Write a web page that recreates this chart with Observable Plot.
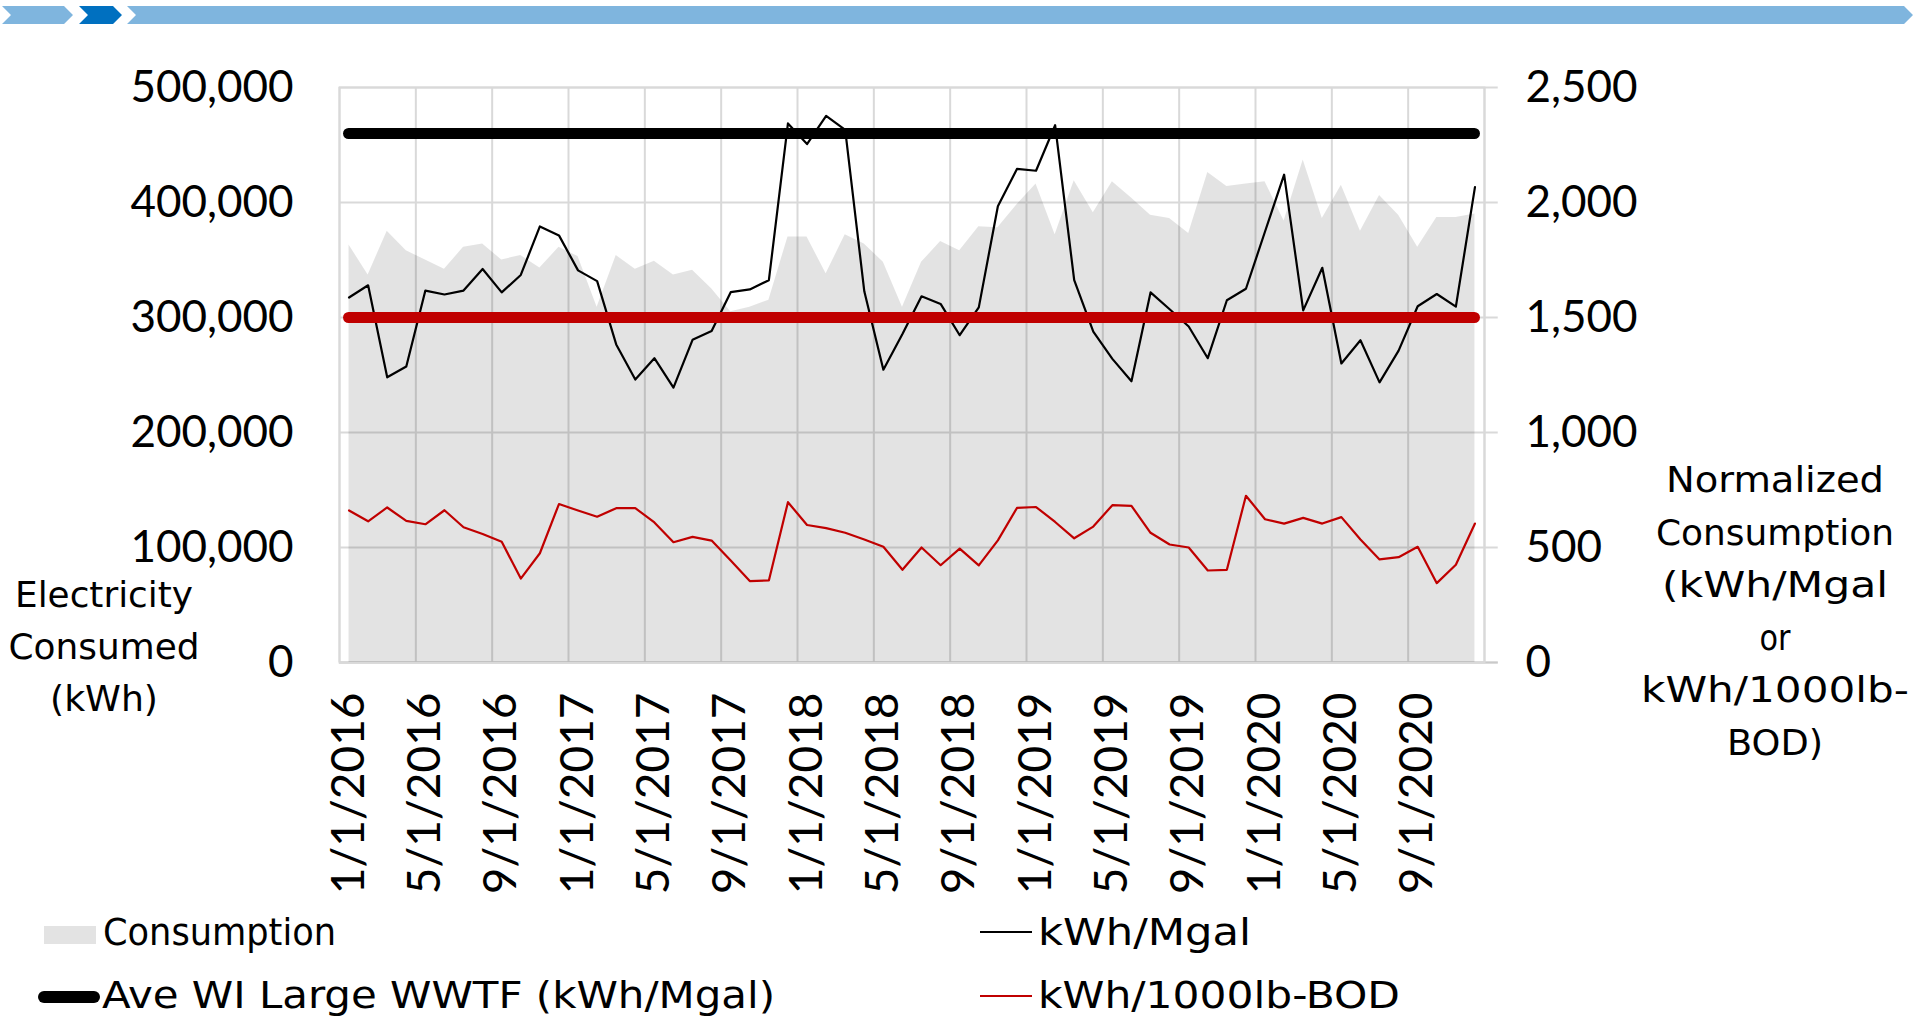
<!DOCTYPE html>
<html>
<head>
<meta charset="utf-8">
<script src="https://cdn.jsdelivr.net/npm/d3@7"></script>
<script src="https://cdn.jsdelivr.net/npm/@observablehq/plot@0.6"></script>
<style>
html, body { margin: 0; padding: 0; background: #fff; }
#wrap { position: relative; width: 1920px; height: 1019px; overflow: hidden; }
#wrap svg { position: absolute; left: 0; top: 0; }
</style>
</head>
<body>
<div id="wrap"></div>
<script>
// ---------- data ----------
const months = [
  "2016-01","2016-02","2016-03","2016-04","2016-05","2016-06","2016-07","2016-08","2016-09","2016-10","2016-11","2016-12",
  "2017-01","2017-02","2017-03","2017-04","2017-05","2017-06","2017-07","2017-08","2017-09","2017-10","2017-11","2017-12",
  "2018-01","2018-02","2018-03","2018-04","2018-05","2018-06","2018-07","2018-08","2018-09","2018-10","2018-11","2018-12",
  "2019-01","2019-02","2019-03","2019-04","2019-05","2019-06","2019-07","2019-08","2019-09","2019-10","2019-11","2019-12",
  "2020-01","2020-02","2020-03","2020-04","2020-05","2020-06","2020-07","2020-08","2020-09","2020-10","2020-11","2020-12"
];
// Electricity consumed (kWh) - left axis
const consumption = [
  363000, 337000, 375000, 358000, 350000, 342000, 361000, 364000, 350000, 354000, 343000, 361000,
  353000, 309000, 354000, 342000, 349000, 337000, 341000, 325000, 305000, 309000, 315000, 370000,
  370000, 338000, 372000, 364000, 348000, 309000, 348000, 366000, 358000, 379000, 378000, 398000,
  416000, 372000, 419000, 391000, 418000, 404000, 389000, 386000, 373000, 426000, 414000, 416000,
  418000, 384000, 437000, 386000, 415000, 375000, 406000, 389000, 361000, 387000, 387000, 390000
];
// kWh/Mgal - right axis
const kwhPerMgal = [
  1587, 1640, 1240, 1287, 1617, 1600, 1617, 1711, 1609, 1685, 1896, 1857,
  1705, 1658, 1383, 1230, 1323, 1195, 1403, 1441, 1610, 1622, 1662, 2344,
  2254, 2377, 2316, 1614, 1273, 1428, 1592, 1559, 1423, 1544, 1984, 2146,
  2138, 2336, 1662, 1439, 1320, 1223, 1609, 1536, 1461, 1323, 1575, 1625,
  1874, 2121, 1531, 1716, 1300, 1401, 1218, 1356, 1549, 1602, 1547, 2067
];
// kWh/1000lb-BOD - right axis
const kwhPer1000lbBOD = [
  661, 614, 674, 616, 601, 662, 588, 559, 525, 365, 475, 689,
  661, 634, 671, 671, 609, 523, 546, 530, 443, 354, 357, 697,
  598, 584, 564, 535, 503, 403, 500, 423, 495, 422, 531, 672,
  676, 611, 540, 591, 684, 681, 564, 513, 500, 400, 403, 725,
  623, 604, 629, 604, 632, 535, 448, 458, 503, 345, 425, 604
];
// Reference averages - right axis
const aveWILargeWWTF = 2300;   // kWh/Mgal
const aveBODReference = 1500;

const leftTicks = [0, 100000, 200000, 300000, 400000, 500000];
const rightTicks = [0, 500, 1000, 1500, 2000, 2500];
const xTickLabels = ["1/1/2016","5/1/2016","9/1/2016","1/1/2017","5/1/2017","9/1/2017","1/1/2018","5/1/2018","9/1/2018","1/1/2019","5/1/2019","9/1/2019","1/1/2020","5/1/2020","9/1/2020"];
const legendItems = ["Consumption", "Ave WI Large WWTF (kWh/Mgal)", "kWh/Mgal", "kWh/1000lb-BOD"];

(function () {
// ---------- build ----------
const RATIO = leftTicks[leftTicks.length - 1] / rightTicks[rightTicks.length - 1]; // right -> left scale
const data = months.map((m, i) => ({
  x: i + 0.5, month: m,
  consumption: consumption[i],
  mgal: kwhPerMgal[i] * RATIO,
  bod: kwhPer1000lbBOD[i] * RATIO
}));
const n = months.length;
const labelPos = xTickLabels.map(l => {
  const [mo, , yr] = l.split("/").map(Number);
  return months.indexOf(`${yr}-${String(mo).padStart(2, "0")}`) + 0.5;
});
const labelByPos = new Map(labelPos.map((p, k) => [p, xTickLabels[k]]));
const gridXPos = labelPos.map(p => p - 0.5).concat([n]);
const fmt = d3.format(",");
const GRID = "#d9d9d9";
const TICKFONT = "Lato, 'DejaVu Sans', sans-serif";

const chart = Plot.plot({
  width: 1920, height: 1019,
  marginLeft: 339, marginRight: 436, marginTop: 87, marginBottom: 357,
  style: { fontFamily: TICKFONT, fontSize: "44px", color: "#000", background: "transparent", overflow: "visible" },
  x: { type: "linear", domain: [0, n] },
  y: { domain: [0, leftTicks[leftTicks.length - 1]] },
  marks: [
    Plot.gridX(gridXPos, { stroke: GRID, strokeOpacity: 1, strokeWidth: 2 }),
    Plot.gridY(leftTicks, { stroke: GRID, strokeOpacity: 1, strokeWidth: 2 }),
    Plot.ruleY(leftTicks, { x1: n, x2: n + 0.72, stroke: GRID, strokeWidth: 2 }),
    Plot.ruleY([0], { x1: 0, x2: n + 0.72, stroke: "#c9c9c9", strokeWidth: 2 }),
    Plot.frame({ stroke: GRID, strokeWidth: 2 }),
    Plot.areaY(data, { x: "x", y: "consumption", fill: "#000", fillOpacity: 0.11 }),
    Plot.lineY(data, { x: "x", y: "mgal", stroke: "#000", strokeWidth: 2.2 }),
    Plot.lineY(data, { x: "x", y: "bod", stroke: "#c00000", strokeWidth: 2.2 }),
    Plot.ruleY([aveWILargeWWTF * RATIO], { x1: data[0].x, x2: data[n - 1].x, stroke: "#000", strokeWidth: 11, strokeLinecap: "round" }),
    Plot.ruleY([aveBODReference * RATIO], { x1: data[0].x, x2: data[n - 1].x, stroke: "#c00000", strokeWidth: 11, strokeLinecap: "round" }),
    Plot.axisY(leftTicks, { anchor: "left", tickSize: 0, tickPadding: 46, tickFormat: fmt, label: null, fontSize: 44 }),
    Plot.axisY(rightTicks.map(v => v * RATIO), { anchor: "right", tickSize: 0, tickPadding: 41, tickFormat: d => fmt(d / RATIO), label: null, fontSize: 44 }),
    Plot.axisX(labelPos, { anchor: "bottom", tickSize: 0, tickPadding: 30, tickRotate: -90, tickFormat: d => labelByPos.get(d), label: null, fontSize: 46 })
  ]
});
document.getElementById("wrap").appendChild(chart);

// ---------- overlay: banner, axis titles, legend ----------
const ov = d3.select("#wrap").append("svg")
  .attr("width", 1920).attr("height", 1019).style("pointer-events", "none");

// banner chevrons
const bTop = 6, bBot = 24, bMid = 15, pt = 9;
const chev = (x0, x1, fill) => {
  ov.append("polygon")
    .attr("points", [[x0, bTop], [x1, bTop], [x1 + pt, bMid], [x1, bBot], [x0, bBot], [x0 + pt, bMid]].map(p => p.join(",")).join(" "))
    .attr("fill", fill);
};
chev(2, 64, "#7fb5de");
chev(79, 113, "#0070c0");
chev(127, 1904, "#7fb5de");

const TITLEFONT = "'DejaVu Sans', sans-serif";
const LEGENDFONT = "'DejaVu Sans Condensed', 'DejaVu Sans', sans-serif";
const addText = (str, x, y, size, len, anchor = "middle", family = TITLEFONT) => {
  const t = ov.append("text").attr("x", x).attr("y", y)
    .attr("font-family", family).attr("font-size", size)
    .attr("text-anchor", anchor).attr("fill", "#000").text(str);
  if (len) t.attr("textLength", len).attr("lengthAdjust", "spacingAndGlyphs");
  return t;
};
// left axis title
[["Electricity", 178], ["Consumed", 191], ["(kWh)", 108]].forEach(([s, w], k) => addText(s, 104, 607 + 52 * k, 35, w));
// right axis title
[["Normalized", 218], ["Consumption", 238], ["(kWh/Mgal", 226], ["or", 31], ["kWh/1000lb-", 268], ["BOD)", 96]]
  .forEach(([s, w], k) => addText(s, 1775, 492 + 52.6 * k, 35, w));

// legend
ov.append("rect").attr("x", 44).attr("y", 926).attr("width", 52).attr("height", 18).attr("fill", "#e3e3e3");
addText(legendItems[0], 103, 945, 38, 233, "start", LEGENDFONT);
ov.append("line").attr("x1", 44).attr("x2", 94).attr("y1", 997).attr("y2", 997)
  .attr("stroke", "#000").attr("stroke-width", 12).attr("stroke-linecap", "round");
addText(legendItems[1], 102, 1008, 38, 673, "start", LEGENDFONT);
ov.append("line").attr("x1", 980).attr("x2", 1032).attr("y1", 932).attr("y2", 932)
  .attr("stroke", "#000").attr("stroke-width", 2.2);
addText(legendItems[2], 1038, 945, 38, 213, "start", LEGENDFONT);
ov.append("line").attr("x1", 980).attr("x2", 1032).attr("y1", 996).attr("y2", 996)
  .attr("stroke", "#c00000").attr("stroke-width", 2.2);
addText(legendItems[3], 1038, 1008, 38, 362, "start", LEGENDFONT);
})();
</script>
</body>
</html>
